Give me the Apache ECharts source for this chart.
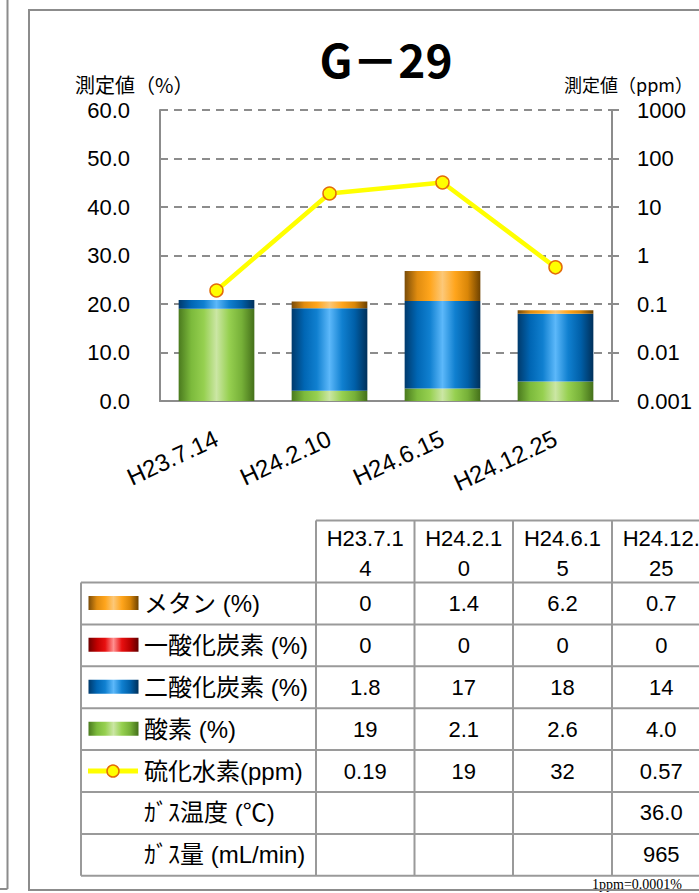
<!DOCTYPE html>
<html>
<head>
<meta charset="utf-8">
<script src="https://cdn.jsdelivr.net/npm/echarts@6/dist/echarts.min.js"></script>
<style>
html,body{margin:0;padding:0;background:#fff;}
#chart{width:699px;height:893px;}
</style>
</head>
<body>
<div id="chart"></div>
<script>
// ---- data ----
const categories = ['H23.7.14', 'H24.2.10', 'H24.6.15', 'H24.12.25'];
const methane = [0, 1.4, 6.2, 0.7];            // メタン (%)
const carbonMonoxide = [0, 0, 0, 0];           // 一酸化炭素 (%)
const carbonDioxide = [1.8, 17, 18, 14];       // 二酸化炭素 (%)
const oxygen = [19, 2.1, 2.6, 4.0];            // 酸素 (%)
const hydrogenSulfide = [0.19, 19, 32, 0.57];  // 硫化水素 (ppm)
const gasTemperature = [null, null, null, 36.0]; // ｶﾞｽ温度 (℃)
const gasFlow = [null, null, null, 965];         // ｶﾞｽ量 (mL/min)
const leftTickLabels = ['0.0', '10.0', '20.0', '30.0', '40.0', '50.0', '60.0'];
const rightTickLabels = ['0.001', '0.01', '0.1', '1', '10', '100', '1000'];

const chart = echarts.init(document.getElementById('chart'), null, {renderer: 'svg', width: 699, height: 893});

const LATIN = "'Liberation Sans', 'Noto Sans CJK JP', sans-serif";
const CJK = "'Noto Sans CJK JP', sans-serif";

function hGrad(stops) {
  return new echarts.graphic.LinearGradient(0, 0, 1, 0, stops.map((c, i) => ({offset: i / (stops.length - 1), color: c})));
}
const gradOrange = () => hGrad(['#7a4c08', '#e08c10', '#ffa51c', '#fcc878', '#ffa51c', '#d98608', '#6e4200']);
const gradRed = () => hGrad(['#6e0000', '#c00000', '#e81010', '#ff9090', '#e81010', '#b80000', '#600000']);
const gradBlue = () => hGrad(['#003a6c', '#0066b4', '#1080d0', '#5cb8fa', '#1080d0', '#005fa8', '#00305a']);
const gradGreen = () => hGrad(['#4a7a1e', '#7cba3c', '#96d050', '#cbe6a4', '#96d050', '#76b038', '#44701a']);

// ---- table (legend + data table) ----
const colX = [81, 316, 414.5, 513, 612, 710.5];
const headTop = 520.5, rowTop = 582.5, rowH = 41.9, nRows = 7;
const gridColor = '#9a9a9a';
const g = [];
function line(x1, y1, x2, y2, stroke, w) {
  g.push({type: 'line', silent: true, shape: {x1, y1, x2, y2}, style: {stroke: stroke || gridColor, lineWidth: w || 2}});
}
function text(t, x, y, opts) {
  g.push({type: 'text', silent: true, style: Object.assign({text: t, x, y, fill: '#000', font: '22px ' + LATIN, align: 'center', verticalAlign: 'middle'}, opts || {})});
}
// header
line(colX[1], headTop, colX[5], headTop);
for (let c = 1; c < colX.length; c++) line(colX[c], headTop, colX[c], rowTop + nRows * rowH);
line(colX[0], rowTop, colX[0], rowTop + nRows * rowH);
for (let r = 0; r <= nRows; r++) line(colX[0], rowTop + r * rowH, colX[5], rowTop + r * rowH);
categories.forEach((cat, i) => {
  const cx = (colX[i + 1] + colX[i + 2]) / 2;
  text(cat.slice(0, 7), cx, 538.5);
  text(cat.slice(7), cx, 568);
});
const rows = [
  {label: 'メタン (%)', vals: methane, fmt: v => String(v), swatch: gradOrange},
  {label: '一酸化炭素 (%)', vals: carbonMonoxide, fmt: v => String(v), swatch: gradRed},
  {label: '二酸化炭素 (%)', vals: carbonDioxide, fmt: v => String(v), swatch: gradBlue},
  {label: '酸素 (%)', vals: oxygen, fmt: v => v.toPrecision(2), swatch: gradGreen},
  {label: '硫化水素(ppm)', vals: hydrogenSulfide, fmt: v => String(v), marker: true},
  {label: 'ｶﾞｽ温度 (℃)', vals: gasTemperature, fmt: v => v.toFixed(1)},
  {label: 'ｶﾞｽ量 (mL/min)', vals: gasFlow, fmt: v => String(v)}
];
rows.forEach((row, r) => {
  const cy = rowTop + r * rowH + rowH / 2;
  if (row.swatch) {
    g.push({type: 'rect', silent: true, shape: {x: 88.5, y: cy - 7.5, width: 50, height: 14}, style: {fill: row.swatch()}});
  }
  if (row.marker) {
    line(88, cy, 138, cy, '#ffff00', 5);
    g.push({type: 'circle', silent: true, shape: {cx: 113, cy: cy, r: 6}, style: {fill: '#ffff00', stroke: '#e36c09', lineWidth: 1.5}});
  }
  text(row.label, 144, cy, {align: 'left', font: '24px ' + LATIN});
  row.vals.forEach((v, i) => {
    if (v === null || v === undefined) return;
    const cx = (colX[i + 1] + colX[i + 2]) / 2;
    text(row.fmt(v), cx, cy);
  });
});
// footnote
text('1ppm=0.0001%', 592, 884, {align: 'left', font: '14px "Liberation Serif", serif', verticalAlign: 'middle'});
// panel borders
g.push({type: 'rect', silent: true, shape: {x: 29, y: 10, width: 700, height: 880}, style: {fill: 'none', stroke: '#8c8c8c', lineWidth: 2}});
line(7.5, -2, 7.5, 889, '#8c8c8c', 2);
line(-2, 889, 7.5, 889, '#8c8c8c', 2);
// axis names
text('測定値（%）', 75, 84, {align: 'left', font: '20px ' + CJK});
text('測定値（ppm）', 564, 84, {align: 'left', font: '18px ' + CJK});

const option = {
  backgroundColor: '#fff',
  animation: false,
  title: {
    text: 'G－29', left: 381, top: 30, textAlign: 'center',
    textStyle: {fontSize: 46, fontWeight: 'bold', color: '#000', fontFamily: CJK}
  },
  grid: {left: 160, right: 87, top: 110, bottom: 492, containLabel: false},
  xAxis: {
    type: 'category', data: categories,
    axisLine: {show: true, lineStyle: {color: '#8c8c8c', width: 2}},
    axisTick: {show: false},
    axisLabel: {rotate: 25, margin: 36, fontSize: 24, color: '#000', fontFamily: LATIN, interval: 0}
  },
  yAxis: [
    {
      type: 'value', min: 0, max: 60, interval: 10,
      axisLine: {show: true, lineStyle: {color: '#8c8c8c', width: 2}},
      axisTick: {show: false},
      axisLabel: {margin: 30, fontSize: 22, color: '#000', fontFamily: LATIN,
        formatter: v => leftTickLabels[Math.round(v / 10)]},
      splitLine: {show: true, lineStyle: {color: '#8c8c8c', width: 2, type: [8, 6]}}
    },
    {
      type: 'log', logBase: 10, min: 0.001, max: 1000, splitNumber: 6,
      position: 'right',
      axisLine: {show: true, lineStyle: {color: '#8c8c8c', width: 2}},
      axisTick: {show: true, inside: false, length: 7, lineStyle: {color: '#8c8c8c', width: 2}},
      axisLabel: {margin: 25, fontSize: 22, color: '#000', fontFamily: LATIN,
        formatter: v => rightTickLabels[Math.round(Math.log10(v)) + 3]},
      splitLine: {show: false},
      minorTick: {show: false}
    }
  ],
  series: [
    {name: '酸素 (%)', type: 'bar', stack: 'gas', barWidth: '67%', data: oxygen, itemStyle: {color: gradGreen()}, yAxisIndex: 0},
    {name: '二酸化炭素 (%)', type: 'bar', stack: 'gas', data: carbonDioxide, itemStyle: {color: gradBlue()}, yAxisIndex: 0},
    {name: '一酸化炭素 (%)', type: 'bar', stack: 'gas', data: carbonMonoxide, itemStyle: {color: gradRed()}, yAxisIndex: 0},
    {name: 'メタン (%)', type: 'bar', stack: 'gas', data: methane, itemStyle: {color: gradOrange()}, yAxisIndex: 0},
    {
      name: '硫化水素(ppm)', type: 'line', yAxisIndex: 1, data: hydrogenSulfide,
      lineStyle: {color: '#ffff00', width: 4.5},
      symbol: 'circle', symbolSize: 13,
      itemStyle: {color: '#ffff00', borderColor: '#e36c09', borderWidth: 1.5},
      z: 5
    }
  ],
  graphic: g
};
chart.setOption(option);
</script>
</body>
</html>
